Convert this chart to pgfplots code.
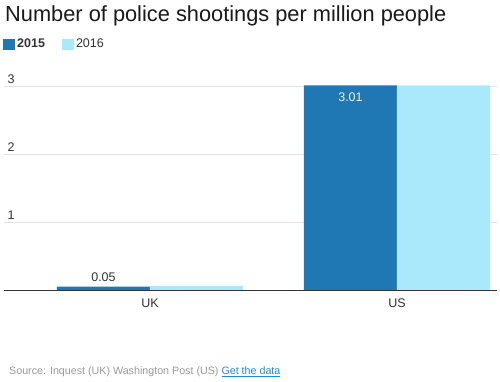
\documentclass[border=0pt]{standalone}
\usepackage{pgfplots}
\pgfplotsset{compat=1.18}
\usepackage{fontspec}
\setmainfont{Liberation Sans}
\definecolor{c15}{HTML}{1F77B4}
\definecolor{c16}{HTML}{AAE8FC}
\definecolor{gridc}{HTML}{E2E2E2}
\definecolor{txt}{HTML}{333333}
\definecolor{src}{HTML}{999999}
\definecolor{lnk}{HTML}{1A8CD8}
\begin{document}
\begin{tikzpicture}[x=1pt,y=1pt]
\useasboundingbox (0,0) rectangle (500,382);
\begin{axis}[
  at={(4pt,92pt)}, anchor=south west,
  scale only axis, width=493pt, height=210.8pt,
  ymin=0, ymax=3.1, xmin=-0.591, xmax=1.405,
  ybar=0pt, bar width=93pt,
  axis lines*=left,
  y axis line style={draw=none},
  x axis line style={draw=txt, line width=0.9pt},
  ytick={1,2,3}, xtick={0,1}, xticklabels={UK,US},
  major tick length=0pt,
  ymajorgrids, grid style={gridc, line width=0.9pt},
  /pgf/number format/assume math mode=true,
  yticklabel style={anchor=south west, yshift=-1pt, font=\fontsize{12.5}{15}\selectfont, text=txt},
  xticklabel style={yshift=-5pt, font=\fontsize{12.5}{15}\selectfont, text=txt},
  clip=false,
  legend columns=2,
  legend style={draw=none, fill=none, at={(0,1)}, anchor=west, xshift=-4pt, yshift=35pt,
    font=\fontsize{12.5}{15}\selectfont, text=txt,
    /tikz/every even column/.append style={column sep=15pt}},
  legend image code/.code={\fill[#1] (0pt,-5.5pt) rectangle (12pt,5.5pt);},
]
\addplot[fill=c15, draw=none] coordinates {(0,0.05) (1,3.01)};
\addlegendentry{\textbf{2015}}
\addplot[fill=c16, draw=none] coordinates {(0,0.06) (1,3.01)};
\addlegendentry{2016}
\node[anchor=base, xshift=-46.5pt, yshift=5.5pt, text=txt, font=\fontsize{12.5}{15}\selectfont] at (axis cs:0,0.05) {0.05};
\node[anchor=base, xshift=-46.5pt, yshift=-16pt, text=white!90!c15, font=\fontsize{12.5}{15}\selectfont] at (axis cs:1,3.01) {3.01};
\end{axis}
\node[anchor=base west, inner sep=0pt, font=\fontsize{21.8}{26}\selectfont, text=black!90] at (5,360) {Number of police shootings per million people};
\node[anchor=base west, inner sep=0pt, font=\fontsize{10.7}{13}\selectfont, text=src] at (9,7) {Source: Inquest (UK) Washington Post (US) \textcolor{lnk}{\underline{Get the data}}};
\end{tikzpicture}
\end{document}
